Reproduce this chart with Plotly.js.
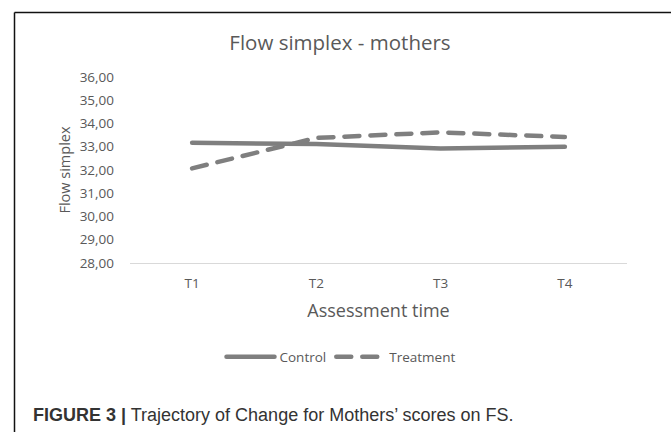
<!DOCTYPE html>
<html>
<head>
<meta charset="utf-8">
<script src="https://cdn.plot.ly/plotly-3.0.1.min.js"></script>
<style>
html,body{margin:0;padding:0;background:#fff;}
#chart{width:671px;height:432px;}
.js-line{stroke-linecap:round;}
</style>
</head>
<body>
<div id="chart"></div>
<script>
var categories = ["T1", "T2", "T3", "T4"];
var controlValues = [33.17, 33.12, 32.93, 33.00];
var treatmentValues = [32.07, 33.38, 33.62, 33.42];
var seriesNames = ["Control", "Treatment"];
var yTickValues = [28, 29, 30, 31, 32, 33, 34, 35, 36];

var W = 671, H = 432;
var L = 130, R = 627, T = 77, B = 263;
function px2x(p){ return (p - L) / (R - L); }
function px2y(p){ return (B - p) / (B - T); }

var lineColor = "#7f7f7f";
var textColor = "#595959";
var font = "Open Sans, Noto Sans, sans-serif";

var traces = [
  {x: categories, y: controlValues, name: seriesNames[0], type: "scatter", mode: "lines",
   line: {color: lineColor, width: 4.5}},
  {x: categories, y: treatmentValues, name: seriesNames[1], type: "scatter", mode: "lines",
   line: {color: lineColor, width: 4.5, dash: "15px,11px"}}
];

var layout = {
  width: W, height: H,
  margin: {l: L, r: W - R, t: T, b: H - B, pad: 0},
  paper_bgcolor: "#fff", plot_bgcolor: "#fff",
  separators: ",.",
  font: {family: font, color: textColor, size: 13.5},
  showlegend: true,
  title: {text: "Flow simplex - mothers", font: {family: font, size: 20.5, color: textColor},
          x: px2x(340), xref: "paper", xanchor: "center", y: 1 - 43 / H, yref: "container", yanchor: "middle"},
  xaxis: {
    type: "category", range: [-0.5, 3.5], fixedrange: true,
    showline: true, linecolor: "#d9d9d9", linewidth: 1, showgrid: false, zeroline: false,
    ticks: "", ticklabelstandoff: 8,
    tickfont: {family: font, size: 13.5, color: textColor},
    title: {text: "Assessment time", font: {family: font, size: 18, color: textColor}, standoff: 13}
  },
  yaxis: {
    range: [28, 36], tickvals: yTickValues, tickformat: ".2f", fixedrange: true,
    showline: false, showgrid: false, zeroline: false, ticks: "", ticklabelstandoff: 15,
    tickfont: {family: font, size: 13.5, color: textColor},
    title: {text: "Flow simplex", font: {family: font, size: 14.5, color: textColor}, standoff: 5}
  },
  legend: {orientation: "h", x: px2x(341), xanchor: "center", y: px2y(357), yanchor: "middle",
           font: {family: font, size: 13.5, color: textColor}, itemwidth: 48, traceorder: "normal",
           bgcolor: "rgba(0,0,0,0)"},
  shapes: [
    {type: "line", xref: "paper", yref: "paper", x0: px2x(14.5), x1: px2x(W + 5), y0: px2y(12.5), y1: px2y(12.5),
     line: {color: "#111", width: 1.5}},
    {type: "line", xref: "paper", yref: "paper", x0: px2x(14.5), x1: px2x(14.5), y0: px2y(12.5), y1: px2y(H + 5),
     line: {color: "#111", width: 1.5}}
  ],
  annotations: [
    {xref: "paper", yref: "paper", x: px2x(31), y: px2y(415), xanchor: "left", yanchor: "middle", showarrow: false,
     text: "<b>FIGURE 3 |</b> Trajectory of Change for Mothers\u2019 scores on FS.",
     font: {family: "Liberation Sans, Arial, sans-serif", size: 18, color: "#333"}}
  ]
};

Plotly.newPlot("chart", traces, layout, {displayModeBar: false, staticPlot: true});
</script>
</body>
</html>
